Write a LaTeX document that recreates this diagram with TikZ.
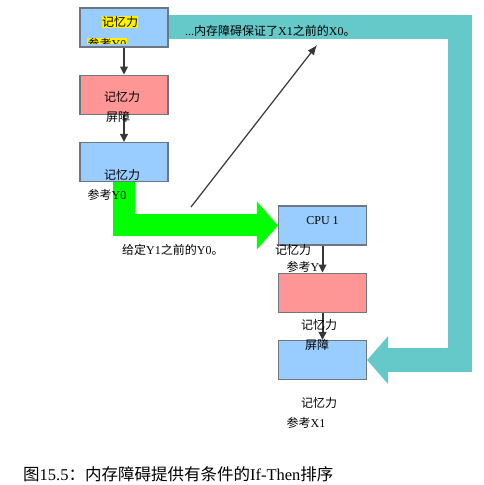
\documentclass[tikz,border=0pt]{standalone}
\usepackage{fontspec}
\setmainfont{Liberation Serif}
\newfontfamily\zhfont{Noto Sans CJK SC}
\newcommand{\zh}[1]{{\zhfont #1}}
\usetikzlibrary{arrows.meta,positioning,backgrounds}
\definecolor{memblue}{RGB}{153,204,255}
\definecolor{memred}{RGB}{255,150,150}
\definecolor{memteal}{RGB}{102,201,201}
\definecolor{memgreen}{RGB}{0,255,0}
\definecolor{edgegray}{RGB}{110,118,130}
\definecolor{linkgray}{RGB}{55,55,55}

\begin{document}
\begin{tikzpicture}[x=1pt, y=1pt, node distance=27pt,
  box/.style={draw=edgegray, line width=1.3pt, minimum width=88pt,
              minimum height=39pt, inner sep=0pt},
  lbl/.style={font=\fontsize{12}{14}\selectfont, inner sep=0pt},
  link/.style={draw=linkgray, line width=2pt,
               -{Triangle[length=8pt,width=7.5pt]}},
  fat/.style={line width=#1, -{Triangle[width=48pt,length=21pt,line width=0pt]}}]
\useasboundingbox (0,0) rectangle (483,485);
% CPU 0 side
\node[box, fill=memblue] (ra) at (124,457.5) {};
\node[box, fill=memred, below=of ra] (rb) {};
\node[box, fill=memblue, below=of rb] (rc) {};
% CPU 1 side
\node[box, fill=memblue] (rd) at (322.5,259.5) {};
\node[box, fill=memred, below=of rd] (re) {};
\node[box, fill=memblue, below=of re] (rf) {};
\path (ra.east) ++(291,0) coordinate (tr);
\begin{scope}[on background layer]
\draw[fat=22pt, draw=memgreen] (rc.south) |- (rd.west);
\draw[fat=24pt, draw=memteal] (ra.east) -- (tr) |- (rf.east);
\end{scope}
\draw[link] (ra) -- (rb);
\draw[link] (rb) -- (rc);
\draw[link] (rd) -- (re);
\draw[link] (re) -- (rf);
\coordinate (p0) at (191,278);
\coordinate (p1) at (317,440);
\draw[draw=linkgray, line width=1.2pt, -{Latex[length=10pt,width=8pt]}] (p0) -- (p1);
% labels
\node[lbl, fill=yellow] (ta) at (120,463) {\zh{记忆力}};
\begin{scope}
\clip (ra.north west) rectangle (167,441);
\node[lbl, fill=yellow, inner sep=0.5pt] (tay) at (107,441) {\zh{参考}Y0};
\end{scope}
\node[lbl] (tb) at (122,388) {\zh{记忆力}};
\node[lbl] (tbb) at (118,368) {\zh{屏障}};
\node[lbl] (tc) at (122,310) {\zh{记忆力}};
\node[lbl] (tcy) at (107,290) {\zh{参考}Y0};
\node[lbl, anchor=west] (tx) at (185,454) {...\zh{内存障碍保证了}X1\zh{之前的}X0\zh{。}};
\node[lbl, anchor=west] (ty) at (122,235) {\zh{给定}Y1\zh{之前的}Y0\zh{。}};
\node[lbl] (td) at (322.5,264) {CPU 1};
\node[lbl] (tdm) at (293,235) {\zh{记忆力}};
\node[lbl] (tdy) at (303,218) {\zh{参考}Y};
\node[lbl] (tem) at (319,160) {\zh{记忆力}};
\node[lbl] (tfb) at (317,140) {\zh{屏障}};
\node[lbl] (tfm) at (319,82) {\zh{记忆力}};
\node[lbl] (tfx) at (306,62) {\zh{参考}X1};
\node[anchor=west, inner sep=0pt, font=\fontsize{16.5}{18}\selectfont] (cap) at (23,11)
  {\zh{图}15.5\zh{：内存障碍提供有条件的}If-Then\zh{排序}};
\end{tikzpicture}
\end{document}
